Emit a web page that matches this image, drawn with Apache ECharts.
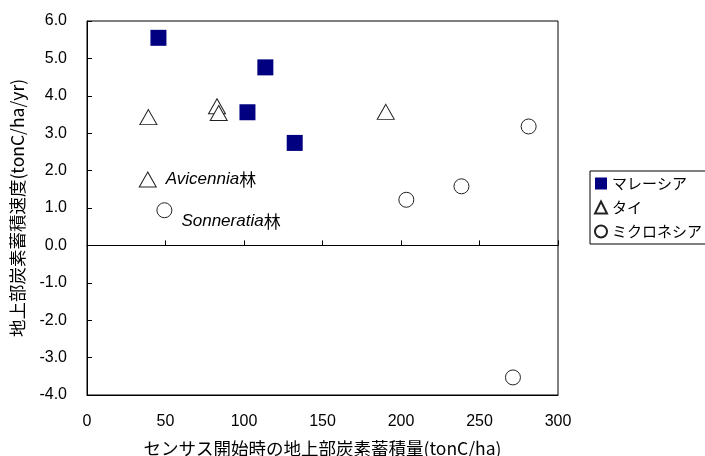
<!DOCTYPE html>
<html><head><meta charset="utf-8">
<script src="https://cdn.jsdelivr.net/npm/echarts@6/dist/echarts.min.js"></script>
<style>html,body{margin:0;padding:0;background:#fff}#c{width:705px;height:456px}</style>
</head><body><div id="c"></div>
<script>
const seriesNames = ['マレーシア', 'タイ', 'ミクロネシア'];
const malaysiaX = [45.5, 113.6, 102.2, 132.3];
const malaysiaY = [5.55, 4.76, 3.56, 2.74];
const thaiX = [39.1, 82.8, 83.9, 38.7, 190.3];
const thaiY = [3.43, 3.72, 3.54, 1.76, 3.57];
const microX = [49.3, 281.3, 203.4, 238.5, 271.3];
const microY = [0.94, 3.18, 1.22, 1.58, -3.53];
const xTicks = [0, 50, 100, 150, 200, 250, 300];
const yTicks = [-4, -3, -2, -1, 0, 1, 2, 3, 4, 5, 6];
const xName = 'センサス開始時の地上部炭素蓄積量(tonC/ha)';
const yName = '地上部炭素蓄積速度(tonC/ha/yr)';
const annotAvicennia = ['Avicennia', '林'];
const annotSonneratia = ['Sonneratia', '林'];

const FONT = '"Liberation Sans", Arial, "Noto Sans CJK JP", sans-serif';
const JFONT = '"Noto Sans CJK JP", "Liberation Sans", sans-serif';

function pts(xs, ys) { return xs.map((x, i) => [x, ys[i]]); }

const richAnn = {
  i: { fontStyle: 'italic', fontFamily: FONT, fontSize: 17, color: '#000' },
  n: { fontFamily: JFONT, fontSize: 17, color: '#000' }
};

const thaiData = pts(thaiX, thaiY).map((p, i) => {
  if (i === 3) {
    return { value: p, label: { show: true, position: 'right', distance: 9,
      formatter: '{i|' + annotAvicennia[0] + '}{n|' + annotAvicennia[1] + '}', rich: richAnn } };
  }
  return p;
});
const microData = pts(microX, microY).map((p, i) => {
  if (i === 0) {
    return { value: p, label: { show: true, position: 'right', distance: 9, offset: [0, 11],
      formatter: '{i|' + annotSonneratia[0] + '}{n|' + annotSonneratia[1] + '}', rich: richAnn } };
  }
  return p;
});

const chart = echarts.init(document.getElementById('c'));
chart.setOption({
  animation: false,
  backgroundColor: '#fff',
  grid: { left: 87, top: 21, width: 471, height: 374, outerBoundsMode: 'none', containLabel: false,
    show: true, borderColor: '#000', borderWidth: 1, backgroundColor: 'transparent' },
  legend: {
    orient: 'vertical', left: 590, top: 171,
    data: seriesNames,
    borderColor: '#000', borderWidth: 1, backgroundColor: '#fff',
    padding: [5, 4, 5, 4], itemGap: 9, itemWidth: 12, itemHeight: 12,
    textStyle: { fontFamily: JFONT, fontSize: 15, color: '#000', padding: [0, 0, 0, 0] }
  },
  xAxis: [{
    type: 'value', position: 'bottom', min: 0, max: 300, interval: 50,
    axisLine: { onZero: false, lineStyle: { color: '#000' } },
    axisTick: { show: false }, splitLine: { show: false },
    axisLabel: { margin: 19, fontFamily: FONT, fontSize: 16, color: '#000' },
    name: xName, nameLocation: 'middle', nameGap: 45,
    nameTextStyle: { fontFamily: JFONT, fontSize: 17.5, color: '#000' }
  }, {
    type: 'value', position: 'top', min: 0, max: 300, interval: 50,
    axisLine: { onZero: true, lineStyle: { color: '#000' } },
    axisTick: { show: true, inside: false, length: 5, lineStyle: { color: '#000' } },
    axisLabel: { show: false }, splitLine: { show: false }
  }],
  yAxis: {
    type: 'value', min: -4, max: 6, interval: 1,
    axisLine: { onZero: false, lineStyle: { color: '#000' } },
    axisTick: { show: true, inside: true, length: 5, lineStyle: { color: '#000' } },
    splitLine: { show: false },
    axisLabel: { margin: 20, fontFamily: FONT, fontSize: 16, color: '#000', formatter: v => v.toFixed(1) },
    name: yName, nameLocation: 'middle', nameGap: 61, nameRotate: 90,
    nameTextStyle: { fontFamily: JFONT, fontSize: 17.5, color: '#000' }
  },
  series: [{
    name: seriesNames[0], type: 'scatter', symbol: 'rect', symbolSize: 16,
    itemStyle: { color: '#000080', borderColor: '#000080', borderWidth: 0, opacity: 1 },
    data: pts(malaysiaX, malaysiaY)
  }, {
    name: seriesNames[1], type: 'scatter', symbol: 'triangle', symbolSize: [17, 15],
    itemStyle: { color: '#fff', borderColor: '#222', borderWidth: 1, opacity: 1 },
    data: thaiData
  }, {
    name: seriesNames[2], type: 'scatter', symbol: 'circle', symbolSize: 15,
    itemStyle: { color: '#fff', borderColor: '#222', borderWidth: 1, opacity: 1 },
    data: microData
  }]
});
</script>
</body></html>
